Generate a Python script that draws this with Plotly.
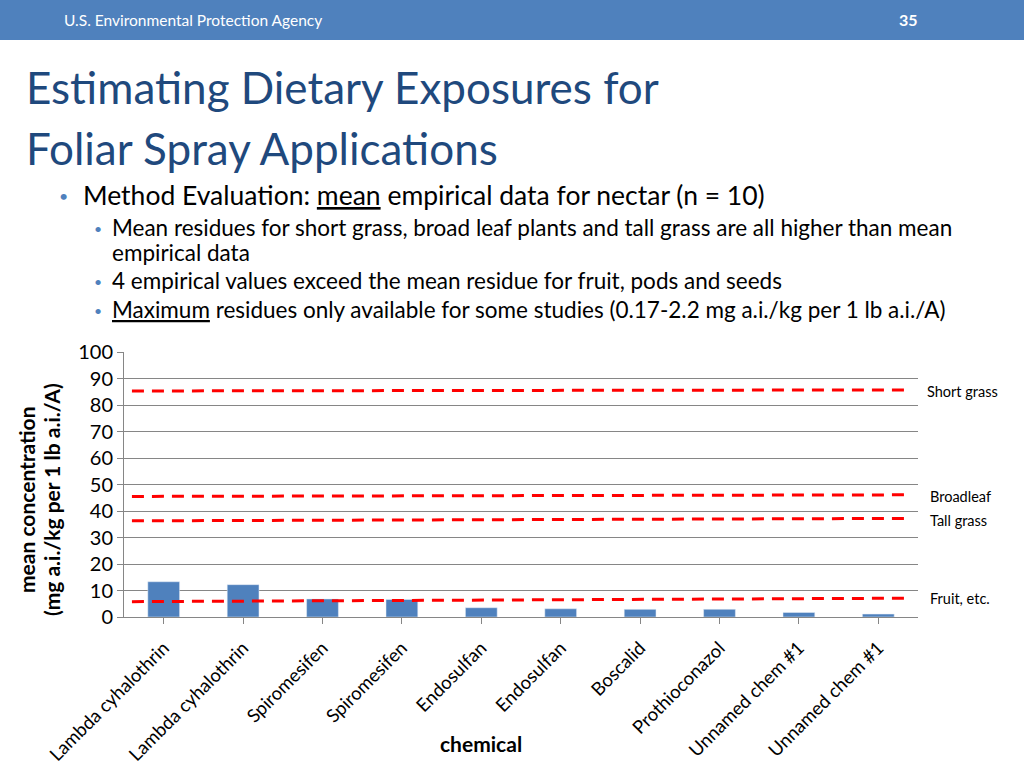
import plotly.graph_objects as go

# ---------------- data ----------------
chemicals = ["Lambda cyhalothrin", "Lambda cyhalothrin", "Spiromesifen", "Spiromesifen",
             "Endosulfan", "Endosulfan", "Boscalid", "Prothioconazol",
             "Unnamed chem #1", "Unnamed chem #1"]
mean_conc = [13.3, 12.2, 6.8, 6.6, 3.5, 3.1, 2.9, 2.9, 1.7, 1.1]

ref_names = ["Short grass", "Broadleaf", "Tall grass", "Fruit, etc."]
ref_start = [85.3, 45.5, 36.3, 5.8]
ref_end = [85.7, 46.1, 37.2, 7.1]
ref_x = [0.1, 9.9]  # positions along the category span (0..10)

y_ticks = list(range(0, 101, 10))

# ---------------- layout geometry ----------------
W, H = 1024, 768
L, R, T, B = 124, 918, 352, 617  # plot area in pixels


def px(x):
    return (x - L) / (R - L)


def py(y):
    return (B - y) / (B - T)


FONT = "Lato, Open Sans, sans-serif"
BAR = "#4F81BD"
TITLE = "#1F497D"

fig = go.Figure()
fig.add_trace(go.Bar(x=list(range(len(chemicals))), y=mean_conc, marker_color=BAR,
                     width=0.4, showlegend=False, hoverinfo="y"))

for name, s, e in zip(ref_names, ref_start, ref_end):
    fig.add_trace(go.Scatter(x=ref_x, y=[s, e], mode="lines", xaxis="x2",
                             line=dict(color="#FF0000", width=3, dash="12px,8px"),
                             name=name, showlegend=False))

annotations = []
# header
annotations.append(dict(x=px(62), y=py(20), xref="paper", yref="paper", xanchor="left",
                        yanchor="middle", text="U.S. Environmental Protection Agency",
                        showarrow=False, font=dict(family=FONT, size=15.5, color="white")))
annotations.append(dict(x=px(908), y=py(19), xref="paper", yref="paper", xanchor="center",
                        yanchor="middle", text="<b>35</b>", showarrow=False,
                        font=dict(family=FONT, size=16, color="white")))
# title
for txt, yy in [("Estimating Dietary Exposures for", 87), ("Foliar Spray Applications", 148)]:
    annotations.append(dict(x=px(24), y=py(yy), xref="paper", yref="paper", xanchor="left",
                            yanchor="middle", text=txt, showarrow=False,
                            font=dict(family=FONT, size=44, color=TITLE)))
# bullets
bul1 = "Method Evaluation: <u>mean</u> empirical data for nectar (n = 10)"
annotations.append(dict(x=px(57), y=py(196), xref="paper", yref="paper", xanchor="left",
                        yanchor="middle", text="•", showarrow=False,
                        font=dict(family=FONT, size=16, color=BAR)))
annotations.append(dict(x=px(81), y=py(195), xref="paper", yref="paper", xanchor="left",
                        yanchor="middle", text=bul1, showarrow=False,
                        font=dict(family=FONT, size=26.5, color="#000000")))
subs = [
    ("Mean residues for short grass, broad leaf plants and tall grass are all higher than mean", 227, True),
    ("empirical data", 252, False),
    ("4 empirical values exceed the mean residue for fruit, pods and seeds", 280, True),
    ("<u>Maximum</u> residues only available for some studies (0.17-2.2 mg a.i./kg per 1 lb a.i./A)", 309, True),
]
for txt, yy, has_bullet in subs:
    if has_bullet:
        annotations.append(dict(x=px(92), y=py(yy + 1), xref="paper", yref="paper", xanchor="left",
                                yanchor="middle", text="•", showarrow=False,
                                font=dict(family=FONT, size=14, color=BAR)))
    annotations.append(dict(x=px(111), y=py(yy), xref="paper", yref="paper", xanchor="left",
                            yanchor="middle", text=txt, showarrow=False, borderpad=0,
                            font=dict(family=FONT, size=22.5, color="#000000")))
# reference line labels
for name, yy, xx in zip(ref_names, [391, 496, 520, 598], [925, 928, 928, 928]):
    annotations.append(dict(x=px(xx), y=py(yy), xref="paper", yref="paper", xanchor="left",
                            yanchor="middle", text=name, showarrow=False,
                            font=dict(family=FONT, size=14.5, color="#000000")))
# axis titles
annotations.append(dict(x=px(26), y=py(500), xref="paper", yref="paper", xanchor="center",
                        yanchor="middle", text="<b>mean concentration</b>", textangle=-90,
                        showarrow=False, font=dict(family=FONT, size=21, color="#000000")))
annotations.append(dict(x=px(51), y=py(500), xref="paper", yref="paper", xanchor="center",
                        yanchor="middle", text="<b>(mg a.i./kg per 1 lb a.i./A)</b>", textangle=-90,
                        showarrow=False, font=dict(family=FONT, size=21, color="#000000")))
annotations.append(dict(x=px(481), y=py(743), xref="paper", yref="paper", xanchor="center",
                        yanchor="middle", text="<b>chemical</b>",
                        showarrow=False, font=dict(family=FONT, size=21, color="#000000")))

shapes = [dict(type="rect", xref="paper", yref="paper", x0=px(0), x1=px(W), y0=py(0), y1=py(40),
               fillcolor=BAR, line=dict(width=0), layer="below")]

fig.update_layout(
    width=W, height=H,
    margin=dict(l=L, r=W - R, t=T, b=H - B),
    paper_bgcolor="white", plot_bgcolor="white",
    bargap=0.6,
    xaxis=dict(tickmode="array", tickvals=list(range(len(chemicals))), ticktext=chemicals,
               range=[-0.5, len(chemicals) - 0.5], tickangle=-45, automargin=False,
               ticks="outside", ticklen=6, tickcolor="#868686", tickson="boundaries",
               ticklabelstandoff=6,
               showline=True, linecolor="#868686", linewidth=1, showgrid=False,
               tickfont=dict(family=FONT, size=18.5, color="#000000"), zeroline=False),
    xaxis2=dict(overlaying="x", range=[0, 10], visible=False, automargin=False),
    yaxis=dict(range=[0, 100], tickvals=y_ticks, ticks="outside", ticklen=6, tickcolor="#868686",
               showline=True, linecolor="#868686", linewidth=1, automargin=False,
               showgrid=True, gridcolor="#868686", gridwidth=1, zeroline=False,
               tickfont=dict(family=FONT, size=20, color="#000000")),
    annotations=annotations,
    shapes=shapes,
)

fig.write_html("out.html", config={"displayModeBar": False},
               post_script="document.body.style.margin='0';document.body.style.overflow='hidden';")
